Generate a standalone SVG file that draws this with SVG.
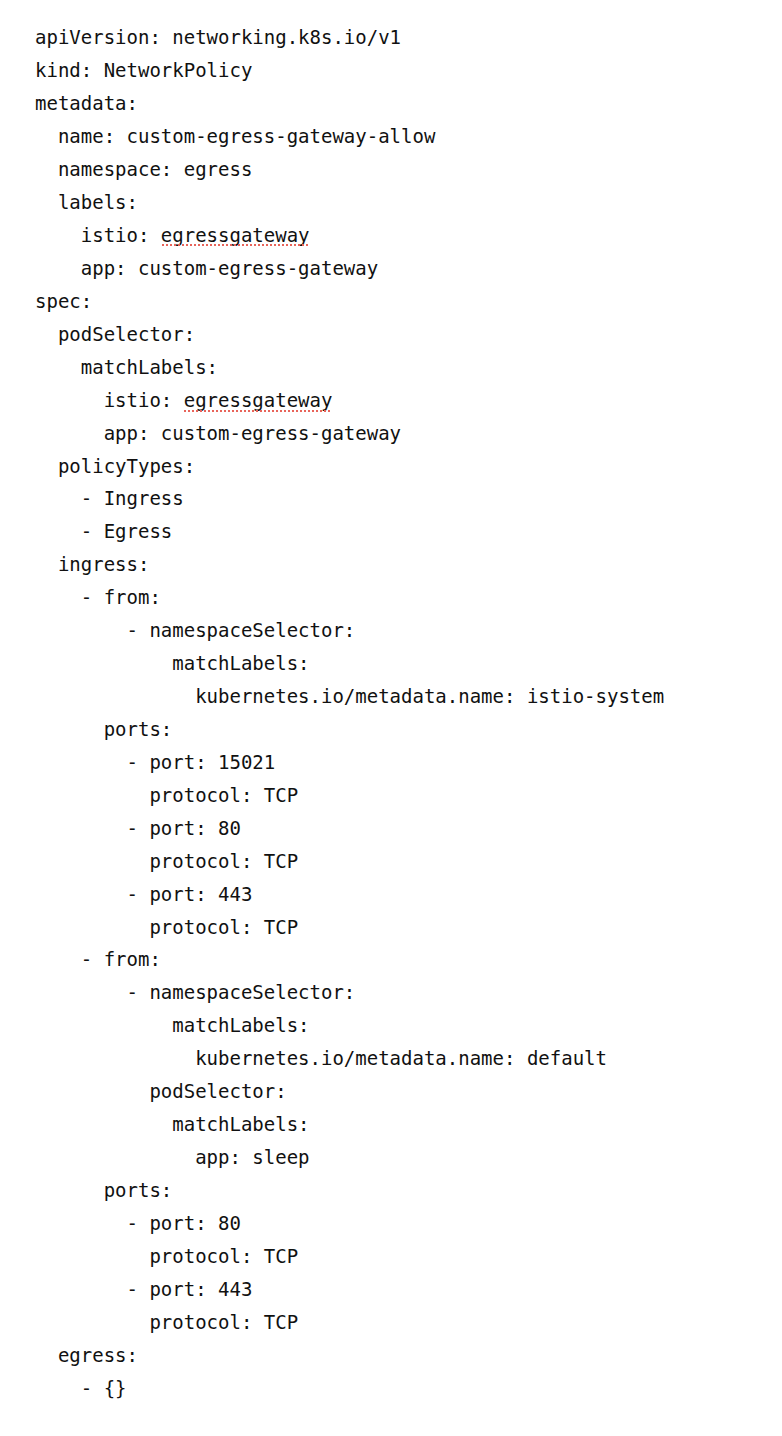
<svg xmlns="http://www.w3.org/2000/svg" width="782" height="1436" viewBox="0 0 782 1436">
<style>
text{font-family:"DejaVu Sans Mono","Liberation Mono",monospace;font-size:19px;fill:#111;white-space:pre}
.sq{stroke:#e8645a;stroke-width:2;stroke-dasharray:2 2;fill:none}
</style>
<rect width="782" height="1436" fill="#fff"/>
<g id="code" xml:space="preserve">
<text x="35" y="44">apiVersion: networking.k8s.io/v1</text>
<text x="35" y="77">kind: NetworkPolicy</text>
<text x="35" y="110">metadata:</text>
<text x="35" y="143">  name: custom-egress-gateway-allow</text>
<text x="35" y="176">  namespace: egress</text>
<text x="35" y="209">  labels:</text>
<text x="35" y="242">    istio: egressgateway</text>
<text x="35" y="275">    app: custom-egress-gateway</text>
<text x="35" y="308">spec:</text>
<text x="35" y="341">  podSelector:</text>
<text x="35" y="374">    matchLabels:</text>
<text x="35" y="407">      istio: egressgateway</text>
<text x="35" y="440">      app: custom-egress-gateway</text>
<text x="35" y="473">  policyTypes:</text>
<text x="35" y="505">    - Ingress</text>
<text x="35" y="538">    - Egress</text>
<text x="35" y="571">  ingress:</text>
<text x="35" y="604">    - from:</text>
<text x="35" y="637">        - namespaceSelector:</text>
<text x="35" y="670">            matchLabels:</text>
<text x="35" y="703">              kubernetes.io/metadata.name: istio-system</text>
<text x="35" y="736">      ports:</text>
<text x="35" y="769">        - port: 15021</text>
<text x="35" y="802">          protocol: TCP</text>
<text x="35" y="835">        - port: 80</text>
<text x="35" y="868">          protocol: TCP</text>
<text x="35" y="901">        - port: 443</text>
<text x="35" y="934">          protocol: TCP</text>
<text x="35" y="966">    - from:</text>
<text x="35" y="999">        - namespaceSelector:</text>
<text x="35" y="1032">            matchLabels:</text>
<text x="35" y="1065">              kubernetes.io/metadata.name: default</text>
<text x="35" y="1098">          podSelector:</text>
<text x="35" y="1131">            matchLabels:</text>
<text x="35" y="1164">              app: sleep</text>
<text x="35" y="1197">      ports:</text>
<text x="35" y="1230">        - port: 80</text>
<text x="35" y="1263">          protocol: TCP</text>
<text x="35" y="1296">        - port: 443</text>
<text x="35" y="1329">          protocol: TCP</text>
<text x="35" y="1362">  egress:</text>
<text x="35" y="1395">    - {}</text>
</g>
<g id="marks">
<line class="sq" x1="162" y1="245" x2="308" y2="245"/>
<line class="sq" x1="184" y1="411" x2="331" y2="411"/>
</g>
</svg>
